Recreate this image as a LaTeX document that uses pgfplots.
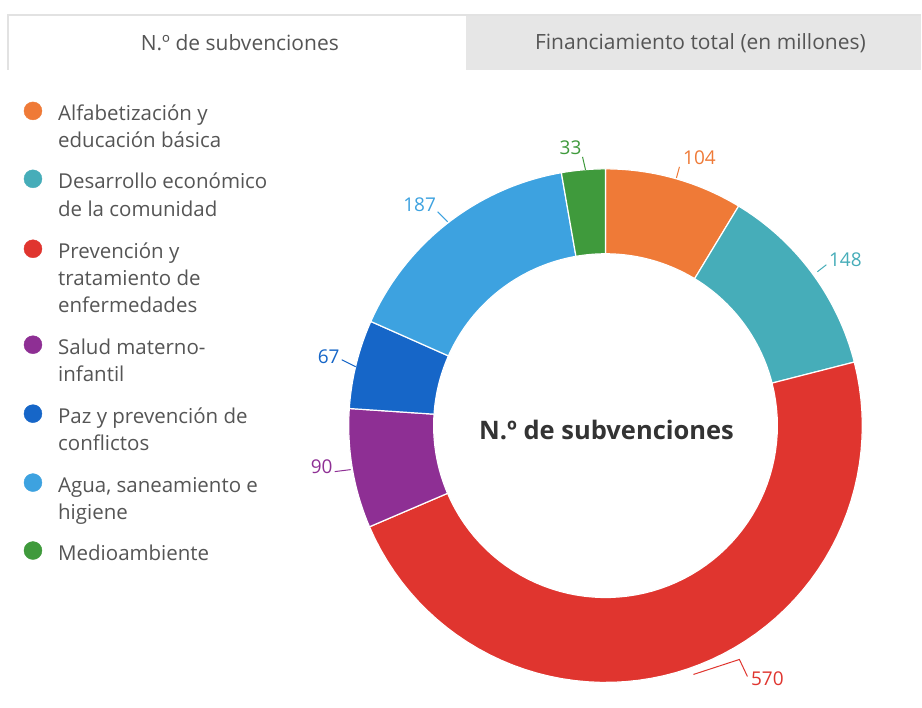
\documentclass[border=0pt]{standalone}
\usepackage{fontspec}
\setmainfont{Open Sans}
\usepackage{pgfplots}
\pgfplotsset{compat=1.18}
\definecolor{cOrange}{HTML}{EF7A37}
\definecolor{cTeal}{HTML}{46ADB9}
\definecolor{cRed}{HTML}{E0352F}
\definecolor{cPurple}{HTML}{8E2F94}
\definecolor{cBlue}{HTML}{1666C8}
\definecolor{cLight}{HTML}{3DA2E0}
\definecolor{cGreen}{HTML}{3F9A3C}
\definecolor{txt}{HTML}{555555}
\definecolor{tabgray}{HTML}{E6E6E6}
\definecolor{tabline}{HTML}{E2E2E2}
% slice: start (cumulative count), value, colour ; total = 1199
\newcommand{\slice}[3]{%
  \addplot[fill=#3, draw=white, line width=1.2pt, variable=\t, samples at={0,1,...,121}]
   ({606 + (\t<60.5 ? 257 : 172)*sin(\t<60.5 ? 360*(#1+#2*\t/60)/1199 : 360*(#1+#2-#2*(\t-61)/60)/1199)},
    {282 + (\t<60.5 ? 257 : 172)*cos(\t<60.5 ? 360*(#1+#2*\t/60)/1199 : 360*(#1+#2-#2*(\t-61)/60)/1199)}) -- cycle;
}
\newcommand{\leg}[2]{\node[anchor=base west, text=txt, font=\fontsize{20.5}{27}\selectfont, inner sep=0pt] at (axis cs:58,#1) {#2};}
\begin{document}
\begin{tikzpicture}
\begin{axis}[x=1pt, y=1pt, xmin=0, xmax=922, ymin=0, ymax=708, hide axis, clip=false]
\fill[white] (axis cs:0,0) rectangle (axis cs:922,708);
% tabs
\fill[tabgray] (axis cs:466,638) rectangle (axis cs:922,693);
\draw[tabline, line width=1.5pt] (axis cs:8,638) -- (axis cs:8,693) -- (axis cs:922,693);
\node[text=txt, font=\fontsize{21}{25}\selectfont] at (axis cs:240,665) {N.º de subvenciones};
\node[text=txt, font=\fontsize{21}{25}\selectfont] at (axis cs:701,665) {Financiamiento total (en millones)};
% donut
\slice{0}{104}{cOrange}
\slice{104}{148}{cTeal}
\slice{252}{570}{cRed}
\slice{822}{90}{cPurple}
\slice{912}{67}{cBlue}
\slice{979}{187}{cLight}
\slice{1166}{33}{cGreen}
\node[text=black!80, font=\fontsize{25.5}{30}\selectfont\bfseries] at (axis cs:607,278) {N.º de subvenciones};
% connectors
\addplot[cGreen, line width=1pt] coordinates {(583,551) (586,538)};
\addplot[cOrange, line width=1pt] coordinates {(680,541) (677,530)};
\addplot[cTeal, line width=1pt] coordinates {(827,443) (818,436)};
\addplot[cLight, line width=1pt] coordinates {(438,496) (448,486)};
\addplot[cBlue, line width=1pt] coordinates {(342,348) (356,341)};
\addplot[cPurple, line width=1pt] coordinates {(335,236) (351,238)};
\addplot[cRed, line width=1pt] coordinates {(694,33) (740,48) (748,31)};
% value labels
\node[text=cGreen, font=\fontsize{19}{22}\selectfont] at (axis cs:571,560) {33};
\node[text=cOrange, font=\fontsize{19}{22}\selectfont] at (axis cs:700,550) {104};
\node[text=cTeal, font=\fontsize{19}{22}\selectfont] at (axis cs:846,448) {148};
\node[text=cLight, font=\fontsize{19}{22}\selectfont] at (axis cs:420,503) {187};
\node[text=cBlue, font=\fontsize{19}{22}\selectfont] at (axis cs:329,351) {67};
\node[text=cPurple, font=\fontsize{19}{22}\selectfont] at (axis cs:322,241) {90};
\node[text=cRed, font=\fontsize{19}{22}\selectfont] at (axis cs:768,29) {570};
% legend markers
\addplot[only marks, mark=*, mark size=9pt, cOrange] coordinates {(33,597)};
\addplot[only marks, mark=*, mark size=9pt, cTeal] coordinates {(33,529)};
\addplot[only marks, mark=*, mark size=9pt, cRed] coordinates {(33,459)};
\addplot[only marks, mark=*, mark size=9pt, cPurple] coordinates {(33,363)};
\addplot[only marks, mark=*, mark size=9pt, cBlue] coordinates {(33,294)};
\addplot[only marks, mark=*, mark size=9pt, cLight] coordinates {(33,225)};
\addplot[only marks, mark=*, mark size=9pt, cGreen] coordinates {(33,157)};
% legend text (baselines)
\leg{587}{Alfabetización y}
\leg{560}{educación básica}
\leg{519}{Desarrollo económico}
\leg{491}{de la comunidad}
\leg{449}{Prevención y}
\leg{422}{tratamiento de}
\leg{395}{enfermedades}
\leg{353}{Salud materno-}
\leg{326}{infantil}
\leg{284}{Paz y prevención de}
\leg{257}{conflictos}
\leg{215}{Agua, saneamiento e}
\leg{188}{higiene}
\leg{147}{Medioambiente}
\end{axis}
\end{tikzpicture}
\end{document}
